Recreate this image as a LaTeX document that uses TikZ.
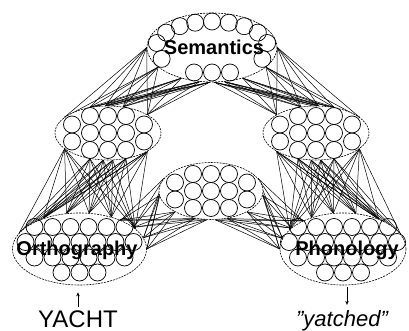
\documentclass[tikz,border=0pt]{standalone}
\usepackage{fontspec}
\setmainfont{Liberation Sans}
\usepackage{tikz}
\usetikzlibrary{shapes.geometric,arrows.meta,positioning,backgrounds}
\tikzset{
  layer/.style={ellipse,draw=black,fill=white,line width=0.6pt,
    dash pattern=on 2pt off 1pt,inner sep=0pt},
  hiddenlayer/.style={layer,minimum width=106pt,minimum height=54pt},
  unit/.style={draw=black,line width=0.7pt},
  link/.style={draw=black,line width=0.5pt},
  layerlabel/.style={font=\fontsize{20}{20}\selectfont\bfseries,
    inner sep=0pt,anchor=base},
  wordlabel/.style={font=\fontsize{24}{24}\selectfont,inner sep=0pt,
    anchor=base},
  inarrow/.style={-{Stealth[length=4pt,width=3.5pt]},line width=0.6pt},
}
% rings of units inside a layer
\newcommand{\semunits}[1]{%
  \foreach \a in {206,170,145,125,107.5,90,72.5,55,35,10,-26}
    \draw[unit] ([shift={({56*cos(\a)},{-26*sin(\a)})}]#1.center)
      circle[radius=8.5];
  \foreach \dx in {-18,0,18}
    \draw[unit] ([shift={(\dx,25)}]#1.center) circle[radius=8.5];}
\newcommand{\hiddenunits}[1]{%
  \foreach \dx/\dy in {-36/-8.5,-36/8.5,-18/-17,-18/0,-18/17,0/-17,0/0,
                       0/17,18/-17,18/0,18/17,36/-8.5,36/8.5}
    \draw[unit] ([shift={(\dx,\dy)}]#1.center) circle[radius=8.5];}
\newcommand{\wordunits}[1]{%
  \foreach \dx/\dy in {-45/-22,-27/-22,-9/-22,9/-22,27/-22,45/-22,
                       -54/-7,-36/-7,-18/-7,0/-7,18/-7,36/-7,54/-7,
                       -45/8.5,-27/8.5,-9/8.5,9/8.5,27/8.5,45/8.5,
                       -18/23.5,0/23.5,18/23.5}
    \draw[unit] ([shift={(\dx,\dy)}]#1.center) circle[radius=8.5];}

\begin{document}
\begin{tikzpicture}[x=1pt,y=-1pt]
\useasboundingbox (0,0) rectangle (409,331);

%% ── layers ───────────────────────────────────────────────────────────────
\node[layer,minimum width=130pt,minimum height=69pt] (sem) at (212,47.5) {};
\node[hiddenlayer] (hidl) at (108,133) {};
\node[hiddenlayer] (hidr) at (316,133) {};
\node[layer,minimum width=104pt,minimum height=57pt] (hidm) at (211,191) {};
\node[layer,minimum width=134pt,minimum height=72pt] (orth) at (79.5,249) {};
\node[layer,minimum width=126pt,minimum height=72pt] (phon) at (343,249) {};

%% ── units ────────────────────────────────────────────────────────────────
\semunits{sem}
\hiddenunits{hidl}
\hiddenunits{hidr}
\hiddenunits{hidm}
\wordunits{orth}
\wordunits{phon}

%% ── labels ───────────────────────────────────────────────────────────────
\node[layerlabel] (semlbl) at (214,55) {Semantics};
\node[layerlabel] (orthlbl) at (77,255) {Orthography};
\node[layerlabel] (phonlbl) at (347,255) {Phonology};

%% ── input and output ─────────────────────────────────────────────────────
\node[wordlabel] (yacht) at (78,327) {YACHT};
\node[wordlabel,font=\fontsize{22}{22}\selectfont\itshape] (yatched)
  at (342,326) {"yatched"};
\draw[inarrow,shorten <=3pt,shorten >=7pt]
  (yacht.north) -- (yacht.north |- orth.south);
\draw[inarrow,shorten <=2pt,shorten >=5pt]
  ([xshift=4pt]phon.south) -- ([xshift=4pt]phon.south |- yatched.north);

%% ── connections ──────────────────────────────────────────────────────────
\begin{scope}[on background layer]
% semantics -- left hidden
\foreach \a in {180,200,225,250,266}
  \foreach \b in {160,125,95,60,25}
    \draw[link] (sem.\a) -- (hidl.\b);
% semantics -- right hidden
\foreach \a in {0,-20,-45,-70,-86}
  \foreach \b in {20,55,85,120,155}
    \draw[link] (sem.\a) -- (hidr.\b);
% left hidden -- orthography
\foreach \a in {200,235,260,280,305,335}
  \foreach \b in {165,140,110,75,45,20}
    \draw[link] (hidl.\a) -- (orth.\b);
% right hidden -- phonology
\foreach \a in {-20,-55,-80,-100,-125,-155}
  \foreach \b in {15,40,70,105,135,160}
    \draw[link] (hidr.\a) -- (phon.\b);
% middle hidden -- orthography
\foreach \a in {165,185,210,240,262}
  \foreach \b in {35,22,10,0}
    \draw[link] (hidm.\a) -- (orth.\b);
% middle hidden -- phonology
\foreach \a in {15,-5,-30,-60,-82}
  \foreach \b in {145,158,170,180}
    \draw[link] (hidm.\a) -- (phon.\b);
\end{scope}

\end{tikzpicture}
\end{document}
